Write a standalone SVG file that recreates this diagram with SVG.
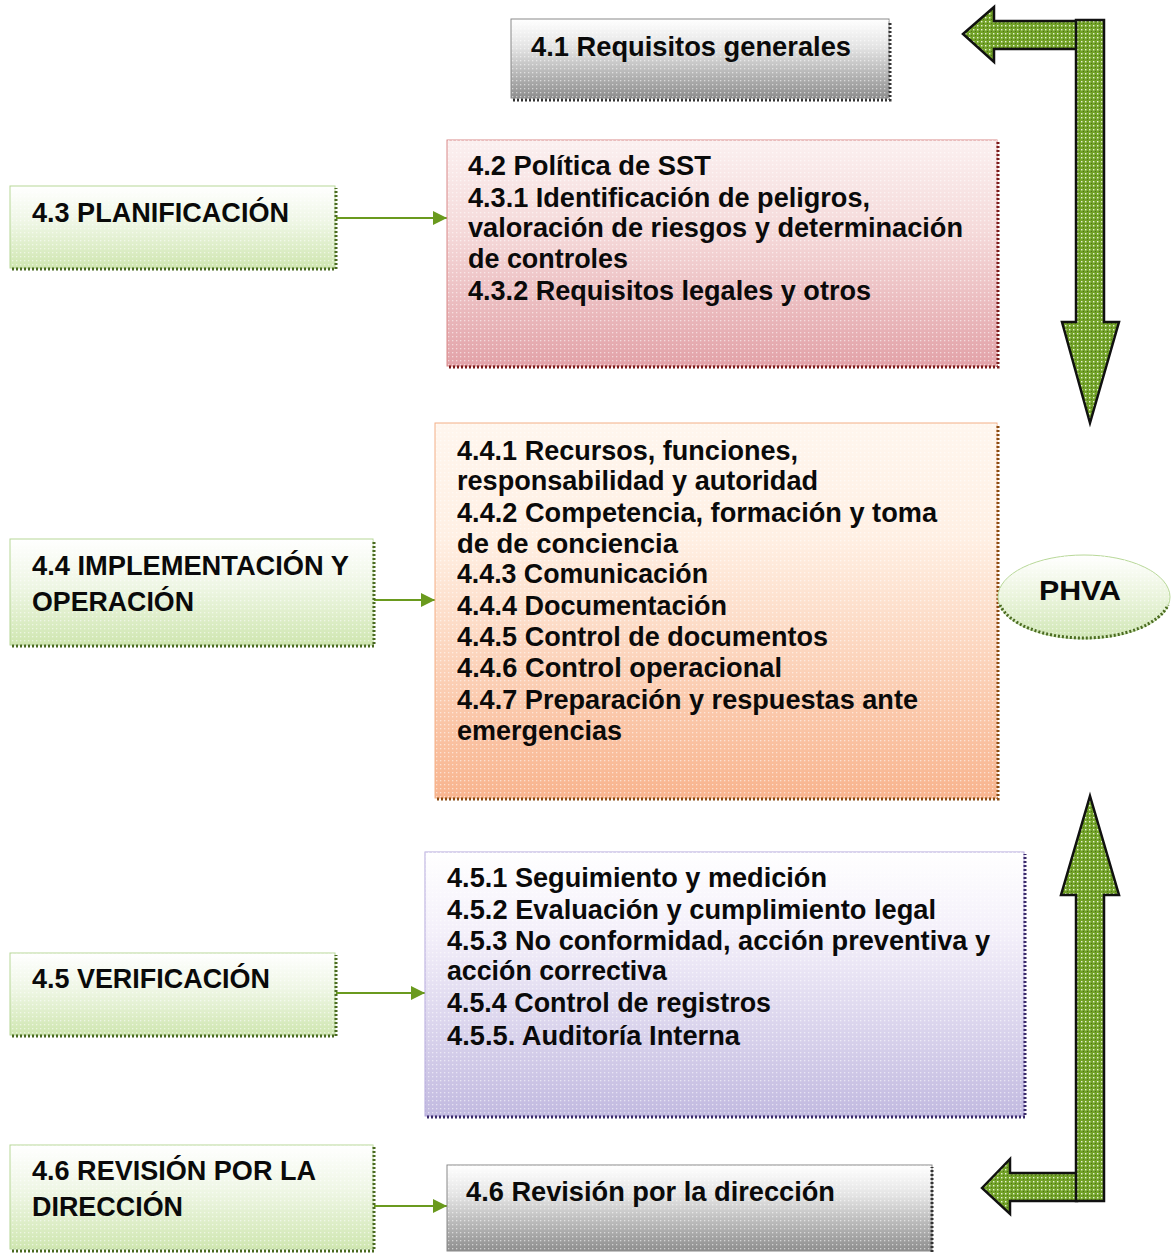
<svg xmlns="http://www.w3.org/2000/svg" width="1172" height="1254" viewBox="0 0 1172 1254">
<defs>
<style>
.t{font-family:"Liberation Sans","DejaVu Sans",Arial,sans-serif;font-weight:bold;font-size:27px;fill:#0a0a0a;}
.big{font-family:"Liberation Sans","DejaVu Sans",Arial,sans-serif;font-weight:bold;font-size:28px;fill:#0a0a0a;}
.sh{fill:none;stroke:#333;stroke-width:3;stroke-dasharray:2 2;}
.conn{stroke:#6a9a1e;stroke-width:2;fill:none;}
.bigarrow{fill:url(#gdots);stroke:#111;stroke-width:2.5;stroke-linejoin:miter;}
.dots{fill:url(#wdots);}
</style>
<pattern id="wdots" width="4" height="4" patternUnits="userSpaceOnUse">
<rect x="0" y="0" width="1.3" height="1.3" fill="#ffffff" opacity="0.55"/>
</pattern>
<pattern id="gdots" width="4" height="4" patternUnits="userSpaceOnUse">
<rect width="4" height="4" fill="#72a228"/>
<rect x="1" y="1" width="1.4" height="1.4" fill="#e8f4d8"/>
<rect x="3" y="3" width="0.8" height="0.8" fill="#3a5a10"/>
</pattern>
<linearGradient id="gGray" x1="0" y1="0" x2="0" y2="1">
<stop offset="0" stop-color="#ffffff"/><stop offset="0.35" stop-color="#e4e4e4"/><stop offset="1" stop-color="#8e8e8e"/>
</linearGradient>
<linearGradient id="gPink" x1="0" y1="0" x2="0" y2="1">
<stop offset="0" stop-color="#fbf0f0"/><stop offset="0.4" stop-color="#f5dada"/><stop offset="1" stop-color="#e2a2a8"/>
</linearGradient>
<linearGradient id="gOrange" x1="0" y1="0" x2="0" y2="1">
<stop offset="0" stop-color="#fff6ee"/><stop offset="0.3" stop-color="#fff0e4"/><stop offset="1" stop-color="#f8b48e"/>
</linearGradient>
<linearGradient id="gPurple" x1="0" y1="0" x2="0" y2="1">
<stop offset="0" stop-color="#ffffff"/><stop offset="0.3" stop-color="#f4f0fa"/><stop offset="1" stop-color="#c2bae0"/>
</linearGradient>
<linearGradient id="gGreen" x1="0" y1="0" x2="0" y2="1">
<stop offset="0" stop-color="#ffffff"/><stop offset="0.45" stop-color="#eef6e4"/><stop offset="1" stop-color="#cfe6b0"/>
</linearGradient>
<linearGradient id="gEll" x1="0" y1="0" x2="0" y2="1">
<stop offset="0" stop-color="#ffffff"/><stop offset="0.5" stop-color="#eaf4dc"/><stop offset="1" stop-color="#d0e6b4"/>
</linearGradient>
<marker id="ah" viewBox="0 0 10 10" refX="10" refY="5" markerWidth="14" markerHeight="14" markerUnits="userSpaceOnUse" orient="auto">
<path d="M0,0 L10,5 L0,10 z" fill="#6a9a1e"/>
</marker>
</defs>

<g id="connectors">
<line class="conn" x1="336" y1="218" x2="447" y2="218" marker-end="url(#ah)"/>
<line class="conn" x1="374" y1="600" x2="435" y2="600" marker-end="url(#ah)"/>
<line class="conn" x1="336" y1="993" x2="425" y2="993" marker-end="url(#ah)"/>
<line class="conn" x1="374" y1="1206" x2="447" y2="1206" marker-end="url(#ah)"/>
</g>

<g id="arrow-top">
<polygon class="bigarrow" points="963,34 994,7 994,21 1077,21 1077,49 994,49 994,62"/>
<polygon class="bigarrow" points="1076,20 1104,20 1104,322 1119,322 1090,423 1062,322 1076,322"/>
</g>
<g id="arrow-bottom">
<polygon class="bigarrow" points="982,1188 1010,1159 1010,1173 1077,1173 1077,1201 1010,1201 1010,1214"/>
<polygon class="bigarrow" points="1090,796 1119,895 1104,895 1104,1201 1076,1201 1076,895 1061,895"/>
</g>

<g id="n41">
<rect x="511" y="19" width="378" height="79" fill="url(#gGray)" stroke="#8a8a8a" stroke-width="1"/>
<rect class="dots" x="511" y="19" width="378" height="79"/>
<polyline class="sh" points="513,100 890,100 890,21"/>
<text class="big" x="531" y="56" textLength="320" lengthAdjust="spacingAndGlyphs">4.1 Requisitos generales</text>
</g>

<g id="n42">
<rect x="447" y="140" width="550" height="226" fill="url(#gPink)" stroke="#d98a8a" stroke-width="1"/>
<rect class="dots" x="447" y="140" width="550" height="226"/>
<polyline class="sh" points="449,367 998,367 998,142" style="stroke:#7a1a1a"/>
<text class="t" x="468" y="175" textLength="243" lengthAdjust="spacingAndGlyphs">4.2 Política de SST</text>
<text class="t" x="468" y="207" textLength="402" lengthAdjust="spacingAndGlyphs">4.3.1 Identificación de peligros,</text>
<text class="t" x="468" y="237" textLength="495" lengthAdjust="spacingAndGlyphs">valoración de riesgos y determinación</text>
<text class="t" x="468" y="268" textLength="160" lengthAdjust="spacingAndGlyphs">de controles</text>
<text class="t" x="468" y="300" textLength="403" lengthAdjust="spacingAndGlyphs">4.3.2 Requisitos legales y otros</text>
</g>

<g id="n43">
<rect x="10" y="186" width="325" height="82" fill="url(#gGreen)" stroke="#b8d898" stroke-width="1"/>
<rect class="dots" x="10" y="186" width="325" height="82"/>
<polyline class="sh" points="12,269 336,269 336,188" style="stroke:#4a6a20"/>
<text class="t" x="32" y="222" textLength="257" lengthAdjust="spacingAndGlyphs">4.3 PLANIFICACIÓN</text>
</g>

<g id="n44box">
<rect x="435" y="423" width="562" height="375" fill="url(#gOrange)" stroke="#f3b088" stroke-width="1"/>
<rect class="dots" x="435" y="423" width="562" height="375"/>
<polyline class="sh" points="437,799 998,799 998,425" style="stroke:#8a4a10"/>
<text class="t" x="457" y="460" textLength="341" lengthAdjust="spacingAndGlyphs">4.4.1 Recursos, funciones,</text>
<text class="t" x="457" y="490" textLength="361" lengthAdjust="spacingAndGlyphs">responsabilidad y autoridad</text>
<text class="t" x="457" y="522" textLength="480" lengthAdjust="spacingAndGlyphs">4.4.2 Competencia, formación y toma</text>
<text class="t" x="457" y="553" textLength="221" lengthAdjust="spacingAndGlyphs">de de conciencia</text>
<text class="t" x="457" y="583" textLength="251" lengthAdjust="spacingAndGlyphs">4.4.3 Comunicación</text>
<text class="t" x="457" y="615" textLength="270" lengthAdjust="spacingAndGlyphs">4.4.4 Documentación</text>
<text class="t" x="457" y="646" textLength="371" lengthAdjust="spacingAndGlyphs">4.4.5 Control de documentos</text>
<text class="t" x="457" y="677" textLength="325" lengthAdjust="spacingAndGlyphs">4.4.6 Control operacional</text>
<text class="t" x="457" y="709" textLength="461" lengthAdjust="spacingAndGlyphs">4.4.7 Preparación y respuestas ante</text>
<text class="t" x="457" y="740" textLength="165" lengthAdjust="spacingAndGlyphs">emergencias</text>
</g>

<g id="n44">
<rect x="10" y="539" width="363" height="106" fill="url(#gGreen)" stroke="#b8d898" stroke-width="1"/>
<rect class="dots" x="10" y="539" width="363" height="106"/>
<polyline class="sh" points="12,646 374,646 374,541" style="stroke:#4a6a20"/>
<text class="t" x="32" y="575" textLength="317" lengthAdjust="spacingAndGlyphs">4.4 IMPLEMENTACIÓN Y</text>
<text class="t" x="32" y="611" textLength="162" lengthAdjust="spacingAndGlyphs">OPERACIÓN</text>
</g>

<g id="phva">
<ellipse cx="1084" cy="597" rx="86" ry="42" fill="url(#gEll)" stroke="#b8d898" stroke-width="1"/>
<ellipse class="dots" cx="1084" cy="597" rx="86" ry="42"/>
<path class="sh" d="M1000,605 A86,42 0 0 0 1168,605" style="stroke:#4a6a20"/>
<text class="big" x="1080" y="600" text-anchor="middle" textLength="82" lengthAdjust="spacingAndGlyphs">PHVA</text>
</g>

<g id="n45box">
<rect x="425" y="852" width="599" height="264" fill="url(#gPurple)" stroke="#b4a8dc" stroke-width="1"/>
<rect class="dots" x="425" y="852" width="599" height="264"/>
<polyline class="sh" points="427,1117 1025,1117 1025,854" style="stroke:#3a2a6a"/>
<text class="t" x="447" y="887" textLength="380" lengthAdjust="spacingAndGlyphs">4.5.1 Seguimiento y medición</text>
<text class="t" x="447" y="919" textLength="489" lengthAdjust="spacingAndGlyphs">4.5.2 Evaluación y cumplimiento legal</text>
<text class="t" x="447" y="950" textLength="543" lengthAdjust="spacingAndGlyphs">4.5.3 No conformidad, acción preventiva y</text>
<text class="t" x="447" y="980" textLength="220" lengthAdjust="spacingAndGlyphs">acción correctiva</text>
<text class="t" x="447" y="1012" textLength="324" lengthAdjust="spacingAndGlyphs">4.5.4 Control de registros</text>
<text class="t" x="447" y="1045" textLength="293" lengthAdjust="spacingAndGlyphs">4.5.5. Auditoría Interna</text>
</g>

<g id="n45">
<rect x="10" y="953" width="325" height="82" fill="url(#gGreen)" stroke="#b8d898" stroke-width="1"/>
<rect class="dots" x="10" y="953" width="325" height="82"/>
<polyline class="sh" points="12,1036 336,1036 336,955" style="stroke:#4a6a20"/>
<text class="t" x="32" y="988" textLength="238" lengthAdjust="spacingAndGlyphs">4.5 VERIFICACIÓN</text>
</g>

<g id="n46">
<rect x="10" y="1145" width="363" height="104" fill="url(#gGreen)" stroke="#b8d898" stroke-width="1"/>
<rect class="dots" x="10" y="1145" width="363" height="104"/>
<polyline class="sh" points="12,1251 374,1251 374,1147" style="stroke:#4a6a20"/>
<text class="t" x="32" y="1180" textLength="284" lengthAdjust="spacingAndGlyphs">4.6 REVISIÓN POR LA</text>
<text class="t" x="32" y="1216" textLength="151" lengthAdjust="spacingAndGlyphs">DIRECCIÓN</text>
</g>

<g id="n46box">
<rect x="447" y="1165" width="485" height="86" fill="url(#gGray)" stroke="#8a8a8a" stroke-width="1"/>
<rect class="dots" x="447" y="1165" width="485" height="86"/>
<polyline class="sh" points="932,1252 932,1167"/>
<text class="t" x="466" y="1201" textLength="369" lengthAdjust="spacingAndGlyphs">4.6 Revisión por la dirección</text>
</g>
</svg>
